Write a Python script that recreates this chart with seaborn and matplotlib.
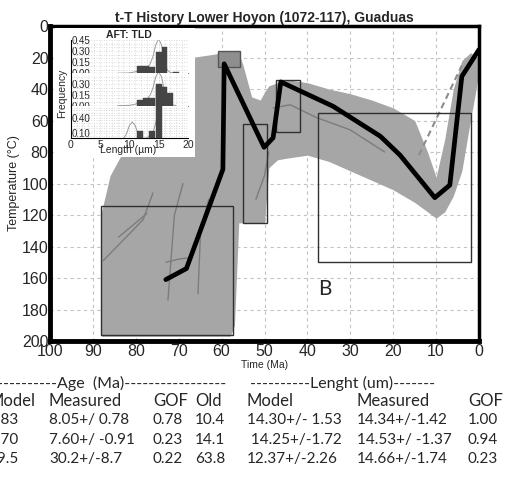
import numpy as np
import pandas as pd
import matplotlib
matplotlib.use("Agg")
import matplotlib.pyplot as plt
import seaborn as sns
from matplotlib.patches import Rectangle

# ---- data ----
# envelope of the accepted t-T paths (time Ma, min / max temperature)
env_time = [88, 86, 84, 80, 75, 70, 67, 62, 58, 57, 56, 55, 53, 51, 50, 49, 47, 45, 40, 35, 30, 25, 20, 15, 12, 10, 8, 6, 4, 2, 0]
env_top = [118, 95, 85, 65, 45, 28, 20, 18, 16, 16, 17, 25, 45, 47, 42, 38, 36, 34, 36, 40, 43, 47, 52, 60, 80, 96, 72, 40, 22, 17, 20]
env_bot = [197, 197, 197, 197, 197, 197, 197, 197, 197, 190, 125, 125, 125, 125, 125, 90, 85, 84, 82, 86, 92, 98, 104, 112, 118, 122, 118, 108, 92, 60, 30]

# best-fit path
best_time = [73, 68.2, 59.7, 59.4, 50.1, 48, 46.2, 34, 23, 18.4, 10.3, 6.8, 4, 0]
best_temp = [161, 154, 91, 24, 77, 71, 35.5, 51, 70, 82, 109, 101, 32, 15]

# a few darker single paths
path_a_time = [87.6, 78.3, 76]
path_a_temp = [149, 123, 106]
path_b_time = [84, 77.4]
path_b_temp = [134, 119]
path_c_time = [72.5, 71, 69]
path_c_temp = [174, 120, 100]
path_d_time = [65.5, 64.9, 63]
path_d_temp = [170, 130, 110]
path_e_time = [73, 70, 67]
path_e_temp = [150, 148, 147]
path_f_time = [48, 44, 38, 30, 22]
path_f_temp = [52, 50, 58, 66, 80]
path_g_time = [52, 50, 49]
path_g_temp = [110, 95, 80]

# expected (dashed) path piece
dash_time = [14, 4]
dash_temp = [82, 25]

# constraint boxes: (t_old, t_young, T_top, T_bottom)
box_t1 = [88, 55.7, 55, 47.4, 37.5]
box_t2 = [57.3, 60.8, 49.5, 41.8, 1.9]
box_T1 = [114, 15.6, 62, 34, 55]
box_T2 = [196, 26, 125, 67, 150]

# inset histograms (AFT track length distributions)
bin_left = [11.3, 12.3, 13.3, 14.5, 15.5, 17.5]
freq_top = [0.10, 0.10, 0.09, 0.29, 0.36, 0.02]
bin_left_mid = [11.3, 12.3, 13.3, 14.5, 15.5, 16.5]
freq_mid = [0.08, 0.10, 0.11, 0.30, 0.26, 0.17]
bin_left_low = [11.3, 13.3, 14.6]
freq_low = [0.15, 0.15, 1.02]

pdf_x = [8, 10, 11, 12, 13, 13.5, 14, 14.5, 15, 15.5, 16, 16.5, 17, 18]
pdf_top = [0, 0.005, 0.02, 0.04, 0.07, 0.12, 0.22, 0.38, 0.47, 0.38, 0.15, 0.04, 0.01, 0]
pdf_mid = [0, 0.005, 0.02, 0.05, 0.09, 0.14, 0.24, 0.40, 0.47, 0.40, 0.20, 0.06, 0.02, 0]
pdf_low_x = [9, 9.5, 10, 10.5, 11, 11.5, 12, 12.5, 13, 14, 14.5, 15]
pdf_low = [0, 0.08, 0.25, 0.32, 0.25, 0.08, 0.01, 0, 0.01, 0.1, 0.3, 0.6]

# results table
tbl_cols = [-12, 49, 153, 195, 247, 357, 468]
tbl_head = ["Model", "Measured", "GOF", "Old", "Model", "Measured", "GOF"]
tbl_rows = [
    ["7.83", "8.05+/ 0.78", "0.78", "10.4", "14.30+/- 1.53", "14.34+/-1.42", "1.00"],
    ["6.70", "7.60+/ -0.91", "0.23", "14.1", " 14.25+/-1.72", "14.53+/ -1.37", "0.94"],
    ["29.5", "30.2+/-8.7", "0.22", "63.8", "12.37+/-2.26", "14.66+/-1.74", "0.23"],
]

W, H = 506, 486


def fx(x):
    return x / W


def fy(y):
    return 1 - y / H


sns.set_style("whitegrid")
plt.rcParams["font.family"] = ["Liberation Sans", "DejaVu Sans"]

fig = plt.figure(figsize=(W / 100, H / 100), dpi=100)
ax = fig.add_axes([fx(50), fy(341), fx(429), 315 / H])

# envelope
ax.fill_between(env_time, env_top, env_bot, color="#a6a6a6", lw=0, zorder=2)

for t, T in [(path_a_time, path_a_temp), (path_b_time, path_b_temp), (path_c_time, path_c_temp),
             (path_d_time, path_d_temp), (path_e_time, path_e_temp), (path_f_time, path_f_temp),
             (path_g_time, path_g_temp)]:
    sns.lineplot(x=t, y=T, sort=False, color="#7c7c7c", lw=1, ax=ax, zorder=3)

sns.lineplot(x=dash_time, y=dash_temp, sort=False, color="#8c8c8c", lw=1.5, ls=(0, (3, 2)), ax=ax, zorder=3)

for i in range(len(box_t1)):
    fc = "#8e8e8e" if i == 1 else "none"
    ec = "#555555" if i == 1 else "#303030"
    ax.add_patch(Rectangle((box_t1[i], box_T1[i]), box_t2[i] - box_t1[i], box_T2[i] - box_T1[i],
                           fc=fc, ec=ec, lw=1, zorder=4))

sns.lineplot(x=best_time, y=best_temp, sort=False, color="black", lw=3.4, ax=ax, zorder=5)

ax.set_xlim(100, 0)
ax.set_ylim(200, 0)
ax.set_xticks(range(100, -1, -10))
ax.set_yticks(range(0, 201, 20))
ax.grid(True, ls=(0, (3, 3)), color="#c4c4c4", lw=0.8)
ax.set_axisbelow(True)
for s in ax.spines.values():
    s.set_color("black")
    s.set_linewidth(2.5)
ax.spines["left"].set_linewidth(3.5)
ax.spines["bottom"].set_linewidth(3.5)
ax.tick_params(labelsize=11.5, length=0, pad=1)
ax.tick_params(axis="x", pad=2)
ax.set_xlabel("Time (Ma)", fontsize=7.5, labelpad=1)
ax.set_ylabel("Temperature (°C)", fontsize=9, labelpad=1)
ax.set_title("t-T History Lower Hoyon (1072-117), Guaduas", fontsize=10, fontweight="bold", pad=3)
ax.text(37.5, 167, "B", fontsize=15, ha="left", va="center", zorder=6, family="Lato")

# inset
fig.patches.append(Rectangle((fx(55), fy(157)), fx(140), 129 / H, transform=fig.transFigure,
                             fc="white", ec="none", zorder=6))
panels = [(40, 73.3), (73.3, 105.7), (105.7, 138.3)]
ins = [fig.add_axes([fx(70.7), fy(b), fx(117.3), (b - t) / H], zorder=7) for t, b in panels]
hist = [(bin_left, freq_top, pdf_x, pdf_top, 0.45, [0, 0.15, 0.30, 0.45]),
        (bin_left_mid, freq_mid, pdf_x, pdf_mid, 0.45, [0, 0.15, 0.30]),
        (bin_left_low, freq_low, pdf_low_x, pdf_low, 0.64, [0.10, 0.40])]
for a, (bl, fr, px, py, ymax, yt) in zip(ins, hist):
    a.set_facecolor("white")
    a.bar(bl, fr, width=1.0, align="edge", color="#454545", ec="#454545", lw=0.3, zorder=3, clip_on=False)
    sns.lineplot(x=px, y=py, sort=False, color="#9a9a9a", lw=0.7, ax=a, zorder=2)
    a.set_xlim(0, 20)
    a.set_ylim(0, ymax)
    a.set_xticks(range(0, 21, 1), minor=True)
    a.set_yticks(np.arange(0, ymax, 0.05), minor=True)
    a.grid(True, which="both", ls=(0, (1, 2)), color="#cfcfcf", lw=0.6)
    for s in a.spines.values():
        s.set_visible(False)
    a.spines["left"].set_visible(True)
    a.spines["left"].set_color("black")
    a.spines["left"].set_linewidth(0.8)
    a.spines["bottom"].set_visible(True)
    a.spines["bottom"].set_color("#888888")
    a.spines["bottom"].set_linewidth(0.8)
    a.set_xticks([0, 5, 10, 15, 20])
    a.tick_params(axis="x", labelsize=7.5, length=0, pad=1)
    a.tick_params(axis="y", labelsize=7, length=0, pad=-1)
    a.set_yticks(yt)
    a.set_yticklabels([f"{v:.2f}" for v in yt], ha="left", zorder=8)
    if a is not ins[-1]:
        a.set_xticklabels([])
ins[-1].spines["bottom"].set_color("black")
ins[0].set_title("AFT: TLD", fontsize=7.5, fontweight="bold", pad=0)
fig.text(fx(62), fy(93), "Frequency", rotation=90, fontsize=7.5, ha="center", va="center", zorder=8)
fig.text(fx(128), fy(150), "Length (µm)", fontsize=7.5, ha="center", va="center", zorder=8)

# table under the chart
tf = ["Lato", "DejaVu Sans"]
fig.text(fx(-3), fy(383), "----------Age  (Ma)-----------------", fontsize=11.5, family=tf, va="center")
fig.text(fx(250), fy(383), "----------Lenght (um)-------", fontsize=11.5, family=tf, va="center")
for c, h in zip(tbl_cols, tbl_head):
    fig.text(fx(c), fy(401), h, fontsize=12, family=tf, va="center")
for r, row in enumerate(tbl_rows):
    for c, v in zip(tbl_cols, row):
        fig.text(fx(c), fy(420 + 19.5 * r), v, fontsize=11, family=tf, va="center")

fig.savefig("out.png", dpi=100)
